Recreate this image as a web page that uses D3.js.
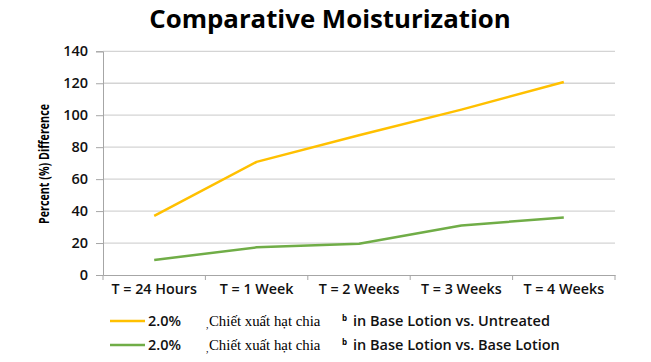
<!DOCTYPE html>
<html><head><meta charset="utf-8">
<script src="https://cdn.jsdelivr.net/npm/d3@7"></script>
<style>body{margin:0;background:#fff}svg{display:block}</style>
</head><body>
<svg id="c" width="651" height="362"></svg>
<script>
const categories = ["T = 24 Hours","T = 1 Week","T = 2 Weeks","T = 3 Weeks","T = 4 Weeks"];
const untreated = [37, 70.8, 87.5, 103.5, 120.8];
const baseLotion = [9.4, 17.3, 19.6, 31, 36];
const yTicks = [0,20,40,60,80,100,120,140];
const seriesNames = ["2.0%","2.0%"];
const seriesMid = ["Chiết xuất hạt chia","Chiết xuất hạt chia"];
const seriesEnd = ["in Base Lotion vs. Untreated","in Base Lotion vs. Base Lotion"];
const colors = ["#FFC000","#70AD47"];

const svg = d3.select("#c");
const font = "'Open Sans', sans-serif";
const x = d3.scaleBand().domain(categories).range([103,615]);
const y = d3.scaleLinear().domain([0,140]).range([275,51.3]);

svg.append("text").attr("x",330).attr("y",28).attr("text-anchor","middle")
  .attr("font-family",font).attr("font-weight","bold").attr("font-size",25.8)
  .attr("fill","#000").text("Comparative Moisturization");

// gridlines
svg.append("g").selectAll("line").data(yTicks.filter(d=>d>0)).join("line")
  .attr("x1",103).attr("x2",615).attr("y1",d=>y(d)).attr("y2",d=>y(d))
  .attr("stroke","#d4d4d4").attr("stroke-width",1.3);

const yAxis = d3.axisLeft(y).tickValues(yTicks).tickSize(7).tickPadding(8);
const gy = svg.append("g").attr("transform","translate(103,0)").call(yAxis);
gy.select(".domain").attr("stroke","#a6a6a6");
gy.selectAll(".tick line").attr("stroke","#a6a6a6");
gy.selectAll("text").attr("font-family",font).attr("font-size",14.5).attr("font-weight",600).attr("fill","#111");

const xAxis = d3.axisBottom(x).tickSize(0).tickPadding(9);
const gx = svg.append("g").attr("transform","translate(0,275)").call(xAxis);
gx.select(".domain").attr("stroke","#a6a6a6").attr("d","M103.5,0.5H615.5");
gx.selectAll("text").attr("font-family",font).attr("font-size",14.3).attr("font-weight",600).attr("fill","#111");
// tick marks at band edges
svg.append("g").selectAll("line").data(categories.map(c=>x(c)).concat([615])).join("line")
  .attr("x1",d=>d).attr("x2",d=>d).attr("y1",275).attr("y2",280).attr("stroke","#a6a6a6");

svg.append("text").attr("transform","translate(49,164) rotate(-90)").attr("text-anchor","middle")
  .attr("font-family",font).attr("font-weight","bold").attr("font-size",13.5)
  .attr("textLength",120).attr("lengthAdjust","spacingAndGlyphs")
  .attr("fill","#000").text("Percent (%) Difference");

const line = d3.line().x((d,i)=>x(categories[i])+x.bandwidth()/2).y(d=>y(d));
[untreated, baseLotion].forEach((s,i)=>{
  svg.append("path").datum(s).attr("d",line).attr("fill","none")
    .attr("stroke",colors[i]).attr("stroke-width",2.5).attr("stroke-linejoin","round");
});

// legend
[0,1].forEach(i=>{
  const ly = 321 + i*24;
  svg.append("line").attr("x1",110).attr("x2",145).attr("y1",ly).attr("y2",ly)
    .attr("stroke",colors[i]).attr("stroke-width",2.5);
  svg.append("text").attr("x",148).attr("y",ly+5).attr("font-family",font).attr("font-size",14.5).attr("font-weight",600)
    .attr("fill","#111").text(seriesNames[i]);
  svg.append("text").attr("x",206).attr("y",ly+7).attr("font-family","'Liberation Serif', serif").attr("font-size",10)
    .attr("fill","#000").text(",");
  svg.append("text").attr("x",209).attr("y",ly+5).attr("font-family","'Liberation Serif', serif").attr("font-size",14.8)
    .attr("fill","#000").text(seriesMid[i]);
  svg.append("text").attr("x",342).attr("y",ly).attr("font-family",font).attr("font-size",8).attr("font-weight","bold")
    .attr("fill","#000").text("b");
  svg.append("text").attr("x",353).attr("y",ly+5).attr("font-family",font).attr("font-size",14.5).attr("font-weight",600)
    .attr("fill","#111").text(seriesEnd[i]);
});
</script>
</body></html>
